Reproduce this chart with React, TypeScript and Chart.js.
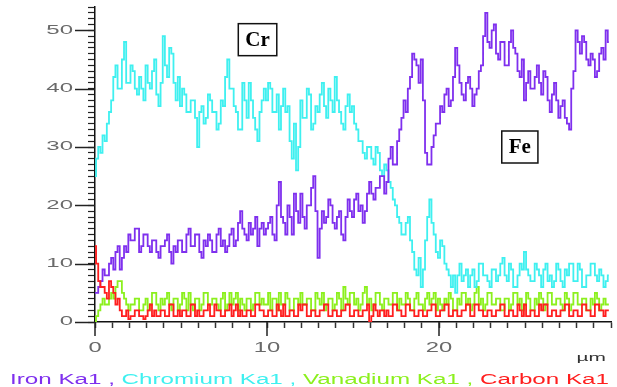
import React, { useEffect, useRef } from "react";
import { Chart, registerables } from "chart.js";

Chart.register(...registerables);

// Sampling step along the line scan (µm)
const STEP_UM = 0.125;

const ironKa1 = [
  5, 5, 6, 7, 9, 8, 8, 10,
  11, 9, 12, 13, 9, 11, 13, 12,
  15, 14, 14, 16, 16, 12, 13, 15,
  15, 13, 12, 14, 14, 12, 11, 13,
  13, 14, 15, 12, 10, 13, 12, 14,
  14, 12, 12, 15, 16, 13, 13, 15,
  15, 12, 11, 14, 13, 15, 14, 12,
  12, 15, 16, 13, 14, 12, 13, 15,
  16, 13, 14, 17, 19, 16, 15, 14,
  17, 15, 16, 18, 13, 16, 17, 15,
  16, 17, 18, 15, 14, 20, 24, 18,
  17, 15, 20, 18, 15, 22, 19, 17,
  22, 18, 16, 20, 20, 23, 25, 19,
  11, 16, 19, 17, 18, 21, 20, 17,
  16, 18, 19, 15, 14, 18, 21, 19,
  18, 21, 22, 19, 20, 17, 19, 22,
  24, 22, 21, 23, 23, 25, 25, 22,
  24, 28, 30, 27, 27, 31, 33, 35,
  38, 36, 40, 42, 46, 45, 44, 41,
  45, 38, 29, 27, 27, 30, 32, 34,
  34, 37, 36, 39, 40, 37, 38, 42,
  47, 44, 41, 39, 38, 41, 42, 40,
  37, 39, 40, 43, 44, 49, 53, 48,
  47, 50, 51, 46, 45, 48, 48, 44,
  44, 48, 50, 47, 46, 43, 42, 45,
  38, 41, 43, 40, 40, 42, 44, 41,
  39, 43, 42, 38, 36, 39, 41, 38,
  35, 37, 38, 35, 34, 33, 40, 43,
  50, 48, 46, 49, 48, 45, 44, 46,
  45, 42, 43, 46, 47, 45, 50, 48,
];

const chromiumKa1 = [
  25, 28, 30, 29, 32, 31, 34, 36,
  38, 42, 44, 40, 40, 45, 48, 41,
  41, 44, 43, 40, 39, 42, 40, 38,
  44, 41, 40, 43, 45, 39, 37, 41,
  49, 44, 42, 47, 46, 41, 38, 42,
  37, 40, 39, 36, 36, 38, 38, 35,
  30, 36, 37, 34, 35, 39, 38, 36,
  36, 33, 34, 38, 37, 42, 45, 40,
  40, 37, 36, 33, 33, 41, 38, 35,
  41, 38, 35, 33, 31, 36, 38, 40,
  38, 41, 40, 36, 36, 39, 33, 37,
  40, 36, 37, 31, 28, 34, 26, 30,
  38, 35, 35, 40, 39, 33, 34, 37,
  36, 39, 41, 37, 35, 40, 38, 36,
  42, 38, 36, 34, 33, 37, 39, 36,
  37, 34, 33, 31, 31, 29, 28, 30,
  30, 28, 27, 30, 29, 26, 25, 27,
  26, 24, 23, 21, 20, 18, 17, 15,
  15, 17, 18, 14, 12, 9, 8, 11,
  6, 9, 14, 18, 21, 17, 15, 12,
  11, 14, 13, 10, 9, 8, 6, 8,
  5, 8, 10, 7, 8, 9, 6, 8,
  9, 6, 7, 10, 10, 8, 8, 7,
  6, 9, 9, 7, 8, 10, 11, 8,
  7, 10, 9, 6, 6, 8, 10, 9,
  12, 9, 8, 7, 7, 10, 9, 8,
  6, 9, 10, 7, 8, 6, 7, 10,
  9, 7, 6, 9, 8, 10, 10, 7,
  7, 10, 9, 6, 6, 8, 8, 10,
  10, 8, 7, 9, 8, 6, 7, 8,
];

const vanadiumKa1 = [
  0, 1, 2, 3, 4, 3, 3, 4,
  5, 4, 6, 7, 7, 5, 4, 3,
  2, 3, 3, 4, 4, 2, 2, 3,
  4, 2, 3, 5, 5, 3, 2, 4,
  3, 4, 5, 3, 2, 4, 4, 2,
  3, 5, 4, 2, 5, 3, 2, 4,
  4, 2, 3, 5, 5, 3, 3, 4,
  4, 3, 2, 4, 5, 2, 3, 5,
  3, 4, 5, 2, 4, 3, 2, 4,
  4, 2, 3, 5, 5, 3, 4, 3,
  3, 5, 2, 4, 4, 2, 5, 3,
  3, 5, 4, 2, 2, 4, 4, 3,
  5, 3, 3, 4, 4, 2, 2, 5,
  4, 3, 5, 2, 3, 4, 4, 2,
  3, 5, 4, 2, 6, 4, 3, 5,
  5, 3, 4, 2, 3, 5, 6, 3,
  4, 2, 3, 5, 5, 3, 2, 4,
  4, 3, 3, 5, 5, 2, 4, 3,
  3, 5, 4, 2, 2, 4, 5, 3,
  3, 2, 4, 5, 3, 4, 5, 2,
  4, 3, 2, 4, 3, 5, 4, 2,
  2, 4, 3, 5, 5, 3, 4, 2,
  3, 5, 6, 3, 4, 2, 3, 5,
  5, 3, 3, 4, 4, 2, 2, 4,
  4, 2, 3, 5, 5, 3, 4, 2,
  3, 5, 4, 2, 2, 4, 3, 5,
  4, 2, 3, 5, 5, 3, 3, 4,
  4, 3, 2, 5, 4, 2, 3, 5,
  5, 3, 3, 4, 4, 2, 2, 4,
  3, 5, 4, 2, 3, 4, 3, 3,
];

const carbonKa1 = [
  13, 10, 7, 6, 6, 5, 4, 7,
  6, 5, 3, 4, 2, 1, 1, 2,
  0.5, 1, 1, 2, 2, 1, 1, 0.5,
  1, 2, 3, 1, 2, 1, 1, 2,
  2, 1, 1, 3, 3, 1, 1, 2,
  1, 2, 2, 1, 1, 3, 3, 1,
  2, 1, 1, 2, 2, 3, 1, 1,
  3, 2, 2, 1, 1, 2, 2, 3,
  1, 2, 3, 1, 2, 1, 1, 2,
  2, 1, 1, 3, 3, 2, 2, 1,
  1, 2, 2, 1, 1, 3, 2, 1,
  3, 1, 1, 2, 2, 1, 1, 3,
  2, 3, 3, 1, 1, 2, 2, 1,
  1, 2, 2, 3, 3, 1, 1, 2,
  2, 1, 1, 2, 2, 3, 3, 1,
  1, 2, 2, 1, 1, 2, 2, 3,
  0, 1, 3, 2, 1, 2, 2, 1,
  2, 1, 1, 3, 3, 2, 2, 1,
  1, 3, 3, 2, 2, 1, 1, 2,
  2, 1, 1, 2, 2, 3, 3, 1,
  1, 2, 2, 3, 3, 1, 1, 2,
  2, 1, 1, 2, 2, 3, 3, 1,
  1, 3, 3, 2, 2, 1, 1, 2,
  2, 1, 1, 2, 2, 3, 3, 1,
  1, 2, 2, 1, 1, 3, 2, 1,
  3, 1, 1, 2, 2, 1, 1, 3,
  2, 3, 3, 1, 1, 2, 2, 1,
  1, 2, 2, 3, 3, 1, 1, 2,
  2, 1, 1, 3, 3, 2, 2, 1,
  1, 3, 3, 2, 2, 1, 2, 2,
];

const distanceUm = ironKa1.map((_, i) => i * STEP_UM);

const seriesNames = ["Iron Ka1", "Chromium Ka1", "Vanadium Ka1", "Carbon Ka1"];
const seriesColors = ["#7f30ee", "#3ff0f0", "#8cf01e", "#ff1e1e"];
const seriesData = [ironKa1, chromiumKa1, vanadiumKa1, carbonKa1];
const seriesOrder = [1, 2, 3, 0];

const yMajorTicks = [0, 10, 20, 30, 40, 50];
const xMajorTicks = [0, 10, 20];
const xUnitLabel = "µm";

const boxLabels = [
  { text: "Cr", x: 9.45, y: 48.4 },
  { text: "Fe", x: 24.7, y: 30.0 },
];

function drawStretched(
  ctx: CanvasRenderingContext2D,
  text: string,
  x: number,
  y: number,
  sx: number,
  align: "left" | "right" | "center"
) {
  const w = ctx.measureText(text).width * sx;
  const left = align === "left" ? x : align === "right" ? x - w : x - w / 2;
  ctx.save();
  ctx.translate(left, y);
  ctx.scale(sx, 1);
  ctx.textAlign = "left";
  ctx.fillText(text, 0, 0);
  ctx.restore();
  return w;
}

const decorPlugin = {
  id: "decor",
  afterDraw(chart: any) {
    const { ctx, chartArea } = chart;
    const xs = chart.scales.x;
    const ys = chart.scales.y;
    ctx.save();

    // major y dashes
    ctx.strokeStyle = "#222";
    ctx.lineWidth = 1.5;
    yMajorTicks.forEach((v) => {
      const py = Math.round(ys.getPixelForValue(v)) + 0.5;
      ctx.beginPath();
      ctx.moveTo(chartArea.left - 20, py);
      ctx.lineTo(chartArea.left, py);
      ctx.stroke();
    });
    // major x ticks
    xMajorTicks.forEach((v) => {
      const px = xs.getPixelForValue(v);
      ctx.beginPath();
      ctx.moveTo(px, chartArea.bottom);
      ctx.lineTo(px, chartArea.bottom + 14);
      ctx.stroke();
    });

    // y labels
    ctx.fillStyle = "#6a6a6a";
    ctx.font = "12px 'Liberation Sans', Arial, sans-serif";
    ctx.textBaseline = "middle";
    yMajorTicks.forEach((v) => {
      drawStretched(ctx, String(v), chartArea.left - 22, ys.getPixelForValue(v), 2.0, "right");
    });

    // x labels
    ctx.font = "14px 'Liberation Sans', Arial, sans-serif";
    ctx.textBaseline = "middle";
    xMajorTicks.forEach((v) => {
      drawStretched(ctx, String(v), xs.getPixelForValue(v), chartArea.bottom + 26, 1.7, "center");
    });

    // unit
    ctx.fillStyle = "#333";
    ctx.font = "11px 'Liberation Sans', Arial, sans-serif";
    ctx.textBaseline = "alphabetic";
    drawStretched(ctx, xUnitLabel, chartArea.right - 5, chartArea.bottom + 39, 1.9, "right");

    // legend
    ctx.font = "14px 'Liberation Sans', Arial, sans-serif";
    ctx.textBaseline = "alphabetic";
    const pieces = seriesNames.map((n, i) => (i < seriesNames.length - 1 ? n + " , " : n));
    const natural = pieces.reduce((s, p) => s + ctx.measureText(p).width, 0);
    const legendLeft = 10;
    const legendRight = 609;
    const sx = (legendRight - legendLeft) / natural;
    let cx = legendLeft;
    pieces.forEach((p, i) => {
      ctx.fillStyle = seriesColors[i];
      cx += drawStretched(ctx, p, cx, chart.height - 3, sx, "left");
    });

    // boxed element labels
    ctx.font = "bold 21px 'Liberation Serif', 'Times New Roman', serif";
    ctx.textBaseline = "middle";
    boxLabels.forEach((b) => {
      const px = xs.getPixelForValue(b.x);
      const py = ys.getPixelForValue(b.y);
      const tw = ctx.measureText(b.text).width;
      const bw = tw + 14;
      const bh = 32;
      ctx.fillStyle = "#fff";
      ctx.fillRect(px - bw / 2, py - bh / 2, bw, bh);
      ctx.strokeStyle = "#111";
      ctx.lineWidth = 1.5;
      ctx.strokeRect(px - bw / 2, py - bh / 2, bw, bh);
      ctx.fillStyle = "#000";
      ctx.textAlign = "center";
      ctx.fillText(b.text, px, py + 1);
    });

    ctx.restore();
  },
};

export default function App() {
  const canvasRef = useRef<HTMLCanvasElement | null>(null);

  useEffect(() => {
    document.body.style.margin = "0";
    const canvas = canvasRef.current;
    if (!canvas) return;
    const chart = new Chart(canvas, {
      type: "line",
      data: {
        datasets: seriesData.map((d, i) => ({
          label: seriesNames[i],
          data: d.map((v, j) => ({ x: distanceUm[j], y: v })),
          borderColor: seriesColors[i],
          backgroundColor: seriesColors[i],
          borderWidth: 1.8,
          pointRadius: 0,
          stepped: "middle" as const,
          fill: false,
          order: seriesOrder[i],
        })),
      },
      options: {
        animation: false,
        responsive: false,
        maintainAspectRatio: false,
        layout: { padding: { left: 88, right: 6, top: 7, bottom: 59 } },
        plugins: {
          legend: { display: false },
          tooltip: { enabled: false },
        },
        scales: {
          x: {
            type: "linear",
            min: 0,
            max: 30,
            ticks: { display: false, stepSize: 1 },
            grid: {
              display: true,
              drawOnChartArea: false,
              drawTicks: true,
              tickLength: 6,
              tickColor: "#333",
              tickWidth: 1.5,
            },
            border: { display: true, color: "#111", width: 1.5 },
          },
          y: {
            type: "linear",
            min: 0,
            max: 54,
            ticks: { display: false, stepSize: 1 },
            grid: {
              display: true,
              drawOnChartArea: false,
              drawTicks: true,
              tickLength: 7,
              tickColor: "#222",
              tickWidth: 1.2,
            },
            border: { display: true, color: "#111", width: 1.5 },
          },
        },
      },
      plugins: [decorPlugin],
    });
    return () => chart.destroy();
  }, []);

  return (
    <div style={{ width: 617, height: 387 }}>
      <canvas ref={canvasRef} width={617} height={387} style={{ display: "block" }} />
    </div>
  );
}
